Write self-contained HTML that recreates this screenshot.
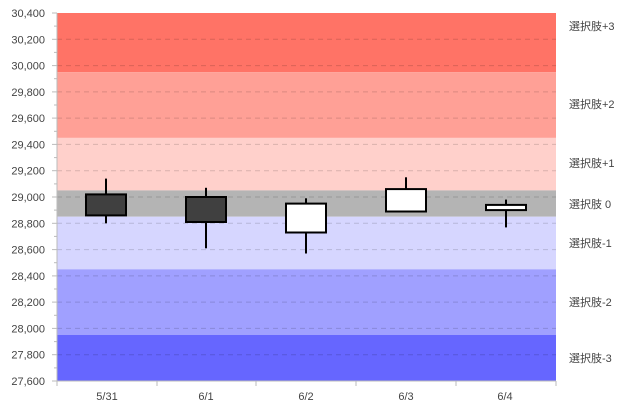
<!DOCTYPE html>
<html><head><meta charset="utf-8"><style>body{margin:0;background:#fff}svg{display:block}text{font-family:"Liberation Sans","Noto Sans CJK JP",sans-serif;font-size:11px;fill:#444}</style></head><body>
<svg width="625" height="411" viewBox="0 0 625 411">
<rect x="57" y="13" width="499" height="59.1" fill="#ff7366"/>
<rect x="57" y="72.1" width="499" height="65.8" fill="#ffa096"/>
<rect x="57" y="137.9" width="499" height="52.5" fill="#ffd0cb"/>
<rect x="57" y="190.4" width="499" height="26.3" fill="#b4b4b4"/>
<rect x="57" y="216.7" width="499" height="52.6" fill="#d6d6ff"/>
<rect x="57" y="269.3" width="499" height="65.7" fill="#a0a0ff"/>
<rect x="57" y="335" width="499" height="46" fill="#6666ff"/>
<g stroke="#000" stroke-opacity="0.15" stroke-dasharray="5,4">
<line x1="57" x2="556" y1="39.3" y2="39.3"/><line x1="57" x2="556" y1="65.6" y2="65.6"/><line x1="57" x2="556" y1="91.9" y2="91.9"/><line x1="57" x2="556" y1="118.1" y2="118.1"/><line x1="57" x2="556" y1="144.4" y2="144.4"/><line x1="57" x2="556" y1="170.7" y2="170.7"/><line x1="57" x2="556" y1="197" y2="197"/><line x1="57" x2="556" y1="223.3" y2="223.3"/><line x1="57" x2="556" y1="249.6" y2="249.6"/><line x1="57" x2="556" y1="275.9" y2="275.9"/><line x1="57" x2="556" y1="302.1" y2="302.1"/><line x1="57" x2="556" y1="328.4" y2="328.4"/><line x1="57" x2="556" y1="354.7" y2="354.7"/>
</g>
<g stroke="#bbb">
<line x1="57" y1="13" x2="57" y2="381"/><line x1="57" y1="381" x2="556" y2="381"/>
<line x1="57" x2="57" y1="381" y2="386"/><line x1="157" x2="157" y1="381" y2="386"/><line x1="256" x2="256" y1="381" y2="386"/><line x1="356" x2="356" y1="381" y2="386"/><line x1="456" x2="456" y1="381" y2="386"/><line x1="556" x2="556" y1="381" y2="386"/>
</g>
<g stroke="#bbb">
<line x1="52" x2="57" y1="13" y2="13"/><line x1="54" x2="57" y1="26.1" y2="26.1"/><line x1="52" x2="57" y1="39.3" y2="39.3"/><line x1="54" x2="57" y1="52.4" y2="52.4"/><line x1="52" x2="57" y1="65.6" y2="65.6"/><line x1="54" x2="57" y1="78.7" y2="78.7"/><line x1="52" x2="57" y1="91.9" y2="91.9"/><line x1="54" x2="57" y1="105" y2="105"/><line x1="52" x2="57" y1="118.1" y2="118.1"/><line x1="54" x2="57" y1="131.3" y2="131.3"/><line x1="52" x2="57" y1="144.4" y2="144.4"/><line x1="54" x2="57" y1="157.6" y2="157.6"/><line x1="52" x2="57" y1="170.7" y2="170.7"/><line x1="54" x2="57" y1="183.9" y2="183.9"/><line x1="52" x2="57" y1="197" y2="197"/><line x1="54" x2="57" y1="210.1" y2="210.1"/><line x1="52" x2="57" y1="223.3" y2="223.3"/><line x1="54" x2="57" y1="236.4" y2="236.4"/><line x1="52" x2="57" y1="249.6" y2="249.6"/><line x1="54" x2="57" y1="262.7" y2="262.7"/><line x1="52" x2="57" y1="275.9" y2="275.9"/><line x1="54" x2="57" y1="289" y2="289"/><line x1="52" x2="57" y1="302.1" y2="302.1"/><line x1="54" x2="57" y1="315.3" y2="315.3"/><line x1="52" x2="57" y1="328.4" y2="328.4"/><line x1="54" x2="57" y1="341.6" y2="341.6"/><line x1="52" x2="57" y1="354.7" y2="354.7"/><line x1="54" x2="57" y1="367.9" y2="367.9"/><line x1="52" x2="57" y1="381" y2="381"/>
</g>
<g text-anchor="end">
<text x="45" y="17">30,400</text><text x="45" y="43.3">30,200</text><text x="45" y="69.6">30,000</text><text x="45" y="95.9">29,800</text><text x="45" y="122.1">29,600</text><text x="45" y="148.4">29,400</text><text x="45" y="174.7">29,200</text><text x="45" y="201">29,000</text><text x="45" y="227.3">28,800</text><text x="45" y="253.6">28,600</text><text x="45" y="279.9">28,400</text><text x="45" y="306.1">28,200</text><text x="45" y="332.4">28,000</text><text x="45" y="358.7">27,800</text><text x="45" y="385">27,600</text>
</g>
<g text-anchor="middle">
<text x="107" y="400">5/31</text><text x="206" y="400">6/1</text><text x="306" y="400">6/2</text><text x="406" y="400">6/3</text><text x="505" y="400">6/4</text>
</g>
<g>
<text x="569" y="30">選択肢+3</text><text x="569" y="108">選択肢+2</text><text x="569" y="167">選択肢+1</text><text x="569" y="208">選択肢 0</text><text x="569" y="247">選択肢-1</text><text x="569" y="306">選択肢-2</text><text x="569" y="362">選択肢-3</text>
</g>
<g stroke="#000" stroke-width="2">
<line x1="106" x2="106" y1="178.6" y2="223.3"/><rect x="86" y="194.4" width="40" height="21" fill="#404040"/>
<line x1="206" x2="206" y1="187.8" y2="248.3"/><rect x="186" y="197" width="40" height="25" fill="#404040"/>
<line x1="306" x2="306" y1="198.3" y2="253.5"/><rect x="286" y="203.6" width="40" height="28.9" fill="#fff"/>
<line x1="406" x2="406" y1="177.3" y2="211.5"/><rect x="386" y="189.1" width="40" height="22.4" fill="#fff"/>
<line x1="506" x2="506" y1="199.6" y2="227.4"/><rect x="486" y="204.9" width="40" height="5.2" fill="#fff"/>
</g>
</svg>
</body></html>
